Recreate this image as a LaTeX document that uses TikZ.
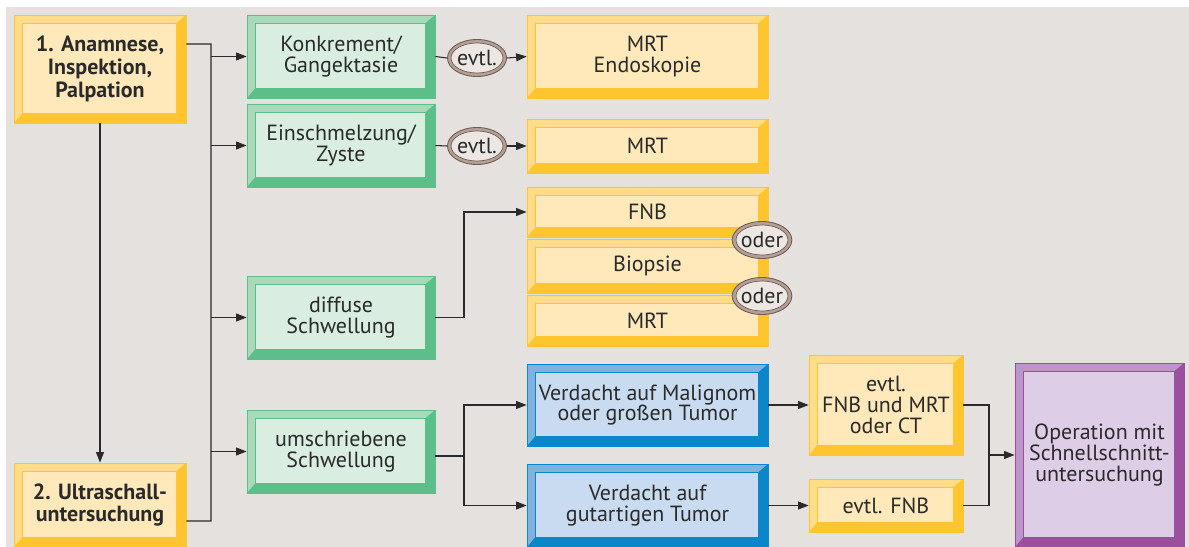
\documentclass[tikz,border=0pt]{standalone}
\usepackage{fontspec}
\setmainfont{PT Sans}
\usetikzlibrary{arrows.meta,shapes.geometric}

\definecolor{hgrund}{HTML}{E5E1DE}
\definecolor{schrift}{HTML}{2A2A2A}
\definecolor{gface}{HTML}{FFE8B9}
\definecolor{ghell}{HTML}{FFDC88}
\definecolor{gdunkel}{HTML}{FFC52E}
\definecolor{gruenface}{HTML}{D9EEE1}
\definecolor{gruenhell}{HTML}{A9D9B9}
\definecolor{gruendunkel}{HTML}{5CBE88}
\definecolor{blauface}{HTML}{C9DBF1}
\definecolor{blauhell}{HTML}{82B1DF}
\definecolor{blaudunkel}{HTML}{0B86C8}
\definecolor{lilaface}{HTML}{DECDE6}
\definecolor{lilahell}{HTML}{BC95C9}
\definecolor{liladunkel}{HTML}{9A509F}
\definecolor{ovring}{HTML}{B3A096}
\definecolor{ovface}{HTML}{EDE7E3}
\definecolor{ovdunkel}{HTML}{6F5B51}

% Rahmenbreiten (oben/links, unten/rechts)
\newcommand{\bwa}{0.16cm}
\newcommand{\bwb}{0.19cm}

\tikzset{
  sz/.style 2 args={minimum width={#1*0.02cm}, minimum height={#2*0.02cm}},
  bevcols/.code n args={2}{\def\bevtop{#1}\def\bevbot{#2}},
  kasten/.style={rectangle, inner sep=0pt, align=center, text=schrift,
    line width=0.4pt, font=\fontsize{12.5}{11.8}\selectfont,
    path picture={
      \coordinate (sw) at (path picture bounding box.south west);
      \coordinate (ne) at (path picture bounding box.north east);
      \coordinate (nw) at (sw|-ne);
      \coordinate (se) at (sw-|ne);
      \coordinate (isw) at ([shift={(\bwa,\bwb)}]sw);
      \coordinate (ine) at ([shift={(-\bwb,-\bwa)}]ne);
      \coordinate (inw) at (isw|-ine);
      \coordinate (ise) at (isw-|ine);
      \fill[\bevtop] (sw) -- (nw) -- (ne) -- (ine) -- (inw) -- (isw) -- cycle;
      \fill[\bevbot] (sw) -- (se) -- (ne) -- (ine) -- (ise) -- (isw) -- cycle;
      \draw[\bevbot, line width=0.4pt] (isw) rectangle (ine);
    }},
  gelb/.style={kasten, fill=gface, draw=gdunkel, bevcols={ghell}{gdunkel}},
  gruen/.style={kasten, fill=gruenface, draw=gruendunkel, bevcols={gruenhell}{gruendunkel}},
  blau/.style={kasten, fill=blauface, draw=blaudunkel, bevcols={blauhell}{blaudunkel}},
  lila/.style={kasten, fill=lilaface, draw=liladunkel, bevcols={lilahell}{liladunkel}},
  fett/.style={font=\fontsize{12.5}{13}\selectfont\bfseries},
  oval/.style={ellipse, inner sep=0pt, minimum width={59*0.02cm}, minimum height={37*0.02cm},
    fill=ovring, draw=ovdunkel, line width=0.5pt, text=schrift, font=\fontsize{12.5}{12}\selectfont,
    path picture={\draw[fill=ovface, draw=ovdunkel, line width=0.4pt]
      (path picture bounding box.center) ellipse (0.52cm and 0.3cm);}},
  linie/.style={draw=schrift, line width=0.6pt},
  pfeil/.style={linie, -{Triangle[length=6pt,width=4.5pt]}}
}

\begin{document}
\begin{tikzpicture}[x=0.02cm, y=-0.02cm]
  % Hintergrund
  \useasboundingbox (0,0) rectangle (1189,547);
  \fill[hgrund] (6,7) rectangle (1189,547);

  % linke Spalte
  \node[gelb, fett, sz={172}{108}] (anam) at (100,69) {1. Anamnese,\\Inspektion,\\Palpation};
  \node[gelb, fett, sz={172}{84}] (ultra) at (100,505) {2. Ultraschall-\\untersuchung};

  % Befunde (gruen)
  \node[gruen, sz={188}{83}] (konk) at (341,56.5) {Konkrement/\\Gangektasie};
  \node[gruen, sz={188}{83}] (einsch) at (341,145.5) {Einschmelzung/\\Zyste};
  \node[gruen, sz={188}{83}] (diffus) at (341,317.5) {diffuse\\Schwellung};
  \node[gruen, sz={188}{83}] (umschr) at (341,451.5) {umschriebene\\Schwellung};

  % weitere Diagnostik
  \node[gelb, sz={241}{83}] (mrtendo) at (647.5,56.5) {MRT\\Endoskopie};
  \node[gelb, sz={241}{54}] (mrta) at (647.5,146) {MRT};
  \node[gelb, sz={241}{50}] (fnb) at (647.5,212) {FNB};
  \node[gelb, sz={241}{54}] (biopsie) at (647.5,266) {Biopsie};
  \node[gelb, sz={241}{51}] (mrtb) at (647.5,320.5) {MRT};
  \node[blau, sz={241}{82}] (malig) at (647.5,405) {Verdacht auf Malignom\\oder großen Tumor};
  \node[blau, sz={241}{83}] (gutart) at (647.5,505.5) {Verdacht auf\\gutartigen Tumor};
  \node[gelb, sz={154}{100}] (evtlmrt) at (886,405) {evtl.\\FNB und MRT\\oder CT};
  \node[gelb, sz={154}{53}] (evtlfnb) at (886,505.5) {evtl. FNB};
  \node[lila, sz={169}{184}] (op) at (1099.5,455) {Operation mit\\Schnellschnitt-\\untersuchung};

  % Ovale
  \node[oval] (evtla) at (477,58) {evtl.};
  \node[oval] (evtlb) at (477,146) {evtl.};
  \node[oval] (odera) at (762,240) {oder};
  \node[oval] (oderb) at (762,296) {oder};

  % Verbindungen links
  \coordinate (bus1) at (211,44);
  \coordinate (bus2) at (211,521);
  \draw[linie] ([yshift=0.5cm]anam.east) -- (bus1) -- (bus2) -- ([yshift=-0.32cm]ultra.east);
  \draw[pfeil] (anam.south) -- (ultra.north);
  \draw[pfeil] (bus1 |- konk.west) -- (konk.west);
  \draw[pfeil] (bus1 |- einsch.west) -- (einsch.west);
  \draw[pfeil] (bus1 |- diffus.west) -- (diffus.west);
  \draw[pfeil] (bus1 |- umschr.west) -- (umschr.west);

  % Verbindungen Mitte
  \draw[linie] (konk.east) -- (evtla.west);
  \draw[pfeil] (evtla.east) -- (mrtendo.west);
  \draw[linie] (einsch.east) -- (evtlb.west);
  \draw[pfeil] (evtlb.east) -- (mrta.west);
  \coordinate (knick1) at (464,317.5);
  \draw[pfeil] (diffus.east) -- (knick1) |- (fnb.west);
  \coordinate (knick2) at (464,456);
  \draw[linie] (umschr.east |- knick2) -- (knick2);
  \draw[pfeil] (knick2) |- (malig.west);
  \draw[pfeil] (knick2) |- (gutart.west);

  % Verbindungen rechts
  \draw[pfeil] (malig.east) -- (evtlmrt.west);
  \draw[pfeil] (gutart.east) -- (evtlfnb.west);
  \coordinate (knick3) at (989,455);
  \draw[linie] (evtlmrt.east) -| (knick3);
  \draw[linie] (evtlfnb.east) -| (knick3);
  \draw[pfeil] (knick3) -- (op.west);
\end{tikzpicture}
\end{document}
